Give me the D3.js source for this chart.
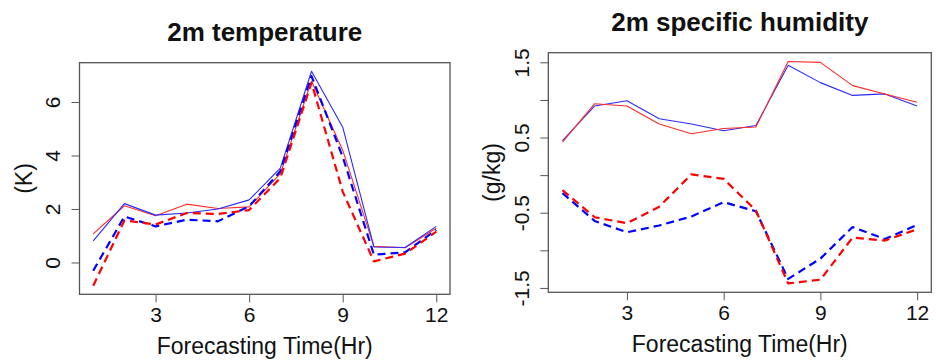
<!DOCTYPE html>
<html lang="en">
<head>
  <meta charset="UTF-8">
  <title>2m temperature and 2m specific humidity</title>
  <script src="https://d3js.org/d3.v7.min.js"></script>
  <style>
    body {
      margin: 0;
      padding: 0;
      background: #fff;
      font-family: "Liberation Sans", Arial, sans-serif;
    }
    .tick line { stroke: #555; }
  </style>
</head>
<body>
  <div id="chart"></div>

  <script>
    // data
    const hours = [1, 2, 3, 4, 5, 6, 7, 8, 9, 10, 11, 12];

    const tempBlueSolid = [0.81, 2.2, 1.77, 1.85, 2.0, 2.34, 3.53, 7.15, 5.06, 0.58, 0.56, 1.35];
    const tempRedSolid  = [1.07, 2.12, 1.75, 2.18, 2.02, 2.08, 3.32, 6.78, 4.2, 0.6, 0.55, 1.28];
    const tempBlueDash  = [-0.31, 1.72, 1.35, 1.6, 1.54, 2.1, 3.41, 6.97, 3.95, 0.29, 0.38, 1.22];
    const tempRedDash   = [-0.87, 1.57, 1.42, 1.85, 1.81, 1.96, 3.16, 6.72, 2.65, 0.04, 0.33, 1.15];

    const humBlueSolid = [0.46, 0.92, 0.99, 0.75, 0.68, 0.59, 0.66, 1.46, 1.23, 1.06, 1.08, 0.92];
    const humRedSolid  = [0.44, 0.95, 0.92, 0.68, 0.55, 0.62, 0.64, 1.51, 1.5, 1.19, 1.08, 0.97];
    const humBlueDash  = [-0.24, -0.61, -0.76, -0.67, -0.55, -0.36, -0.48, -1.38, -1.11, -0.69, -0.85, -0.66];
    const humRedDash   = [-0.2, -0.56, -0.64, -0.42, 0.01, -0.05, -0.47, -1.44, -1.39, -0.83, -0.87, -0.72];

    const xTicks = [3, 6, 9, 12];
    const tempTicks = [0, 2, 4, 6];
    const humTicks = [-1.5, -1, -0.5, 0, 0.5, 1, 1.5];
    const humLabels = ["-1.5", "-0.5", "0.5", "1.5"];

    const width = 936;
    const height = 360;

    const svg = d3.select("#chart")
      .append("svg")
      .attr("width", width)
      .attr("height", height);

    // R-style 4% padding around the data range
    function padded(lo, hi) {
      const r = hi - lo;
      return [lo - 0.04 * r, hi + 0.04 * r];
    }

    function drawPanel(opts) {
      const { box, title, ylab, series, yTicks, yFormat } = opts;
      const g = svg.append("g");

      const x = d3.scaleLinear()
        .domain(padded(d3.min(hours), d3.max(hours)))
        .range([box.x0, box.x1]);

      const allVals = series.flatMap(s => s.values);
      const y = d3.scaleLinear()
        .domain(padded(d3.min(allVals), d3.max(allVals)))
        .range([box.y1, box.y0]);

      // lines
      const line = d3.line()
        .x((d, i) => x(hours[i]))
        .y(d => y(d));

      series.forEach(s => {
        g.append("path")
          .datum(s.values)
          .attr("fill", "none")
          .attr("stroke", s.color)
          .attr("stroke-width", s.dashed ? 2.2 : 1.1)
          .attr("stroke-dasharray", s.dashed ? "8,5" : null)
          .attr("stroke-linejoin", "round")
          .attr("d", line);
      });

      // box
      g.append("rect")
        .attr("x", box.x0)
        .attr("y", box.y0)
        .attr("width", box.x1 - box.x0)
        .attr("height", box.y1 - box.y0)
        .attr("fill", "none")
        .attr("stroke", "#555")
        .attr("stroke-width", 1.3);

      // x axis
      const xAxis = g.append("g")
        .attr("transform", `translate(0,${box.y1})`)
        .call(d3.axisBottom(x).tickValues(xTicks).tickSize(8).tickFormat(d3.format("d")));
      xAxis.select(".domain").remove();
      xAxis.selectAll("text")
        .attr("y", 0)
        .attr("dy", 28)
        .attr("fill", "#111")
        .style("font-size", "21px")
        .style("font-family", "'Liberation Sans', Arial, sans-serif");

      // y axis
      const yAxis = g.append("g")
        .attr("transform", `translate(${box.x0},0)`)
        .call(d3.axisLeft(y).tickValues(yTicks).tickSize(8).tickFormat(yFormat));
      yAxis.select(".domain").remove();
      yAxis.selectAll("text")
        .attr("x", null)
        .attr("dy", "0.35em")
        .attr("text-anchor", "middle")
        .attr("transform", "translate(-27,0) rotate(-90)")
        .attr("fill", "#111")
        .style("font-size", "21px")
        .style("font-family", "'Liberation Sans', Arial, sans-serif");

      // title
      g.append("text")
        .attr("x", (box.x0 + box.x1) / 2)
        .attr("y", box.y0 - 22)
        .attr("text-anchor", "middle")
        .style("font-size", "26px")
        .style("font-weight", "bold")
        .attr("fill", "#111")
        .text(title);

      // axis titles
      g.append("text")
        .attr("x", (box.x0 + box.x1) / 2)
        .attr("y", box.y1 + 60)
        .attr("text-anchor", "middle")
        .style("font-size", "23px")
        .attr("fill", "#111")
        .text("Forecasting Time(Hr)");

      g.append("text")
        .attr("text-anchor", "middle")
        .attr("dy", "0.35em")
        .attr("transform", `translate(${box.x0 - 56},${(box.y0 + box.y1) / 2}) rotate(-90)`)
        .style("font-size", "23px")
        .attr("fill", "#111")
        .text(ylab);
    }

    drawPanel({
      box: { x0: 79.5, x1: 450, y0: 62.7, y1: 294.3 },
      title: "2m temperature",
      ylab: "(K)",
      yTicks: tempTicks,
      yFormat: d3.format("d"),
      series: [
        { values: tempRedSolid, color: "#ff2a2a", dashed: false },
        { values: tempBlueSolid, color: "#2a2aff", dashed: false },
        { values: tempBlueDash, color: "#0000ff", dashed: true },
        { values: tempRedDash, color: "#ff0000", dashed: true }
      ]
    });

    drawPanel({
      box: { x0: 548.3, x1: 931.3, y0: 52.7, y1: 292.3 },
      title: "2m specific humidity",
      ylab: "(g/kg)",
      yTicks: humTicks,
      yFormat: d => {
        const s = d3.format(".1f")(d);
        return humLabels.includes(s.replace("−", "-")) ? s.replace("−", "-") : "";
      },
      series: [
        { values: humBlueSolid, color: "#2a2aff", dashed: false },
        { values: humRedSolid, color: "#ff2a2a", dashed: false },
        { values: humBlueDash, color: "#0000ff", dashed: true },
        { values: humRedDash, color: "#ff0000", dashed: true }
      ]
    });
  </script>
</body>
</html>
